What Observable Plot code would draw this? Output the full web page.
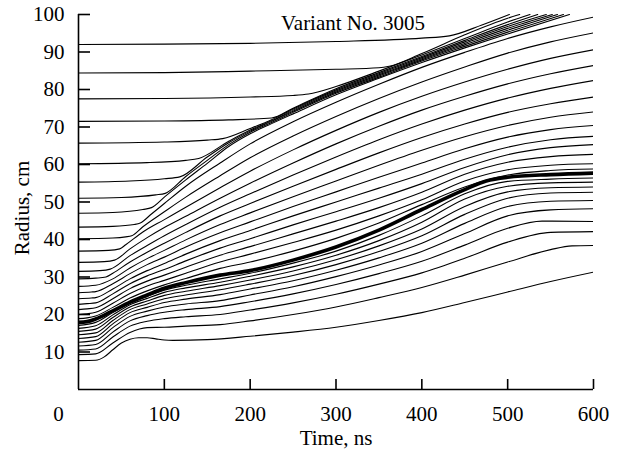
<!DOCTYPE html>
<html><head><meta charset="utf-8">
<script src="https://cdn.jsdelivr.net/npm/d3@7"></script>
<script src="https://cdn.jsdelivr.net/npm/@observablehq/plot@0.6"></script>
<style>body{margin:0;background:#fff} svg{display:block}</style>
</head><body><div id="chart"></div>
<script>
// Text
const title = "Variant No. 3005";
const xLabel = "Time, ns";
const yLabel = "Radius, cm";
const xTicks = [0, 100, 200, 300, 400, 500, 600];
const yTicks = [10, 20, 30, 40, 50, 60, 70, 80, 90, 100];

// Outer layers swept into the compressed shell: [time ns, radius cm]
const shellLines = [
  [[0,92],[100,92.1],[200,92.3],[300,92.8],[400,93.7],[432,94.3],[470,97.2],[502,100]],
  [[0,84.4],[100,84.5],[200,84.9],[300,85.4],[350,85.8],[362,86.2],[400,89.6],[450,94.6],[500,99.0],[514,100]],
  [[0,77.5],[100,77.6],[200,78.0],[250,78.4],[268,78.8],[300,80.8],[350,84.9],[400,89.2],[450,93.6],[500,98.0],[526,100]],
  [[0,71.5],[100,71.6],[175,71.9],[225,72.4],[250,75.0],[300,80.2],[350,84.5],[400,88.8],[450,93.1],[500,97.3],[535,100]],
  [[0,65.7],[100,66.0],[150,66.5],[168,66.9],[200,69.6],[225,71.95],[250,74.8],[300,79.9],[350,84.2],[400,88.5],[450,92.7],[500,96.8],[545,100]],
  [[0,60.2],[80,60.5],[125,61.1],[140,61.6],[175,66.2],[200,69.2],[225,71.7],[250,74.5],[300,79.6],[350,83.9],[400,88.2],[450,92.3],[500,96.3],[552,100]],
  [[0,55.3],[60,55.6],[100,56.2],[118,56.7],[150,62.0],[175,65.8],[200,68.9],[225,71.5],[250,74.2],[300,79.3],[350,83.6],[400,87.9],[450,91.9],[500,95.8],[558,100]],
  [[0,51],[50,51.2],[90,51.9],[101,52.3],[125,56.8],[150,61.1],[175,65.3],[200,68.6],[225,71.2],[250,73.9],[300,79.0],[350,83.3],[400,87.6],[450,91.5],[500,95.3],[565,100]],
  [[0,47],[40,47.2],[75,48.0],[85,48.5],[101,51.5],[125,55.9],[150,60.3],[175,64.8],[200,68.2],[225,70.9],[250,73.5],[300,78.6],[350,83.0],[400,87.2],[450,91.1],[500,94.8],[572,100]]
];

// Layers between the shell and the interface (fan)
const fanLines = [
  [[0,18.9],[10,19.1],[20,19.6],[40,21.9],[60,24.4],[80,26.3],[100,27.9],[125,29.6],[165,32.3],[200,34.0],[250,36.9],[300,40.3],[350,44.4],[400,49.3],[450,54.0],[500,57.2],[550,58.4],[600,58.8]],
  [[0,20.0],[10,20.2],[20,20.6],[40,23.0],[60,25.6],[80,27.6],[100,29.1],[125,31.0],[165,34.0],[200,36.1],[250,39.2],[300,42.5],[350,46.3],[400,50.6],[450,55.6],[500,58.6],[550,59.8],[600,60.2]],
  [[0,21.3],[10,21.5],[20,21.8],[40,24.2],[60,26.9],[80,28.9],[100,30.5],[125,32.6],[165,35.8],[200,38.1],[250,41.5],[300,44.9],[350,48.5],[400,52.6],[450,57.4],[500,60.6],[550,62.1],[600,62.7]],
  [[0,22.7],[10,22.9],[20,23.1],[40,25.5],[60,28.2],[80,30.3],[100,32.0],[125,34.3],[165,37.7],[200,40.2],[250,43.9],[300,47.4],[350,51.0],[400,54.9],[450,59.2],[500,62.6],[550,64.5],[600,65.3]],
  [[0,24.2],[15,24.4],[20,24.5],[40,26.8],[60,29.5],[80,31.7],[100,33.6],[125,36.1],[165,39.7],[200,42.4],[250,46.3],[300,50.0],[350,53.7],[400,57.4],[450,61.4],[500,64.6],[550,66.6],[600,67.5]],
  [[0,25.8],[15,26.0],[20,26.1],[40,28.2],[60,30.9],[80,33.3],[100,35.3],[125,38.0],[165,41.8],[200,44.7],[250,48.8],[300,52.7],[350,56.6],[400,60.4],[450,64.2],[500,67.3],[550,69.3],[600,70.4]],
  [[0,27.5],[20,27.8],[40,29.5],[60,32.4],[80,34.9],[100,37.1],[125,39.9],[165,44.0],[200,47.1],[250,51.4],[300,55.6],[350,59.8],[400,63.8],[450,67.4],[500,70.4],[550,72.6],[600,74.0]],
  [[0,29.5],[20,29.7],[32,30.0],[40,31.0],[60,34.0],[80,36.6],[100,39.0],[125,41.9],[165,46.3],[200,49.6],[250,54.2],[300,58.7],[350,63.1],[400,67.2],[450,70.8],[500,73.9],[550,76.2],[600,78.0]],
  [[0,31.5],[25,31.7],[37,32.1],[60,35.7],[80,38.4],[100,41.0],[125,44.0],[165,48.6],[200,52.2],[250,57.2],[300,62.0],[350,66.6],[400,70.8],[450,74.5],[500,77.7],[550,80.3],[600,82.4]],
  [[0,33.9],[30,34.1],[42,34.5],[60,37.5],[80,40.5],[100,43.2],[125,46.2],[165,51.0],[200,55.0],[250,60.4],[300,65.5],[350,70.2],[400,74.5],[450,78.2],[500,81.5],[550,84.2],[600,86.4]],
  [[0,36.9],[35,37.1],[48,37.5],[55,38.6],[75,42.0],[100,45.3],[125,48.6],[165,53.8],[200,58.2],[250,63.9],[300,69.1],[350,73.9],[400,78.2],[450,82.0],[500,85.4],[550,88.3],[600,90.6]],
  [[0,40.2],[40,40.4],[55,40.7],[62,41.0],[75,43.4],[100,47.4],[125,51.3],[165,57.0],[200,61.8],[250,67.6],[300,72.8],[350,77.6],[400,82.0],[450,86.0],[500,89.7],[550,92.7],[600,95.1]],
  [[0,43.3],[40,43.5],[65,44.0],[72,44.4],[85,46.8],[100,49.6],[125,54.2],[165,60.4],[200,65.5],[250,71.4],[300,76.6],[350,81.4],[400,85.9],[450,89.9],[500,93.6],[550,96.7],[600,99.3]]
];

// Interface (bold line)
const interfaceLine = [[0,17.9],[10,18.1],[20,18.8],[40,21.0],[60,23.3],[80,25.2],[100,27.0],[125,28.5],[165,30.5],[200,31.7],[250,34.5],[300,38.0],[350,42.5],[400,48.0],[450,53.3],[475,55.6],[500,56.6],[550,57.3],[600,57.7]];

// Inner layers
const innerLines = [
  [[0,7.7],[20,7.8],[30,8.7],[40,10.6],[50,12.4],[60,13.4],[70,13.8],[80,13.8],[90,13.5],[100,13.2],[110,13.1],[150,13.3],[200,14.2],[250,15.3],[300,16.6],[350,18.4],[400,20.5],[450,23.2],[500,26.0],[550,28.8],[600,31.3]],
  [[0,9.3],[20,9.5],[40,12.4],[60,15.2],[80,16.5],[100,16.6],[125,16.9],[165,17.3],[200,18.3],[250,20.0],[300,22.0],[350,24.5],[400,27.2],[450,30.5],[500,34.0],[550,37.3],[575,38.3],[600,38.4]],
  [[0,10.5],[20,10.8],[40,14.0],[60,16.9],[80,18.2],[100,18.9],[125,19.4],[165,20.0],[200,21.2],[250,23.1],[300,25.4],[350,28.1],[400,31.1],[450,35.0],[500,39.3],[550,41.9],[600,42.1]],
  [[0,11.6],[20,12.0],[40,15.3],[60,18.3],[80,19.7],[100,20.6],[125,21.3],[165,22.1],[200,23.4],[250,25.5],[300,28.0],[350,30.9],[400,34.2],[450,38.5],[500,43.0],[540,44.9],[600,44.8]],
  [[0,12.6],[20,13.1],[40,16.5],[60,19.5],[80,20.9],[100,22.0],[125,22.8],[165,23.7],[200,25.2],[250,27.4],[300,30.1],[350,33.2],[400,36.8],[450,41.6],[500,46.3],[550,47.9],[600,48.2]],
  [[0,13.6],[20,14.1],[40,17.5],[60,20.5],[80,21.9],[100,23.2],[125,24.1],[165,25.3],[200,26.8],[250,29.0],[300,31.8],[350,35.1],[400,39.0],[450,44.3],[500,48.8],[550,50.2],[600,50.4]],
  [[0,14.6],[20,15.1],[40,18.4],[60,21.3],[80,22.8],[100,24.2],[125,25.2],[165,26.6],[200,28.1],[250,30.4],[300,33.3],[350,36.8],[400,41.0],[450,46.7],[500,51.0],[550,52.4],[600,52.6]],
  [[0,15.5],[20,16.1],[40,19.2],[60,22.0],[80,23.6],[100,25.1],[125,26.2],[165,27.7],[200,29.2],[250,31.6],[300,34.6],[350,38.3],[400,42.8],[450,48.8],[500,52.7],[550,53.8],[600,54.0]],
  [[0,16.3],[20,17.0],[40,19.9],[60,22.6],[80,24.3],[100,25.9],[125,27.1],[165,28.6],[200,30.2],[250,32.7],[300,35.8],[350,39.7],[400,44.6],[450,50.8],[500,54.2],[550,55.1],[600,55.3]],
  [[0,17.1],[20,17.9],[40,20.5],[60,23.0],[80,24.8],[100,26.5],[125,27.8],[165,29.5],[200,31.0],[250,33.7],[300,36.9],[350,41.1],[400,46.3],[450,52.2],[500,55.5],[550,56.1],[600,56.4]]
];

const toRows = (lines, prefix) => lines.flatMap((pts, i) => pts.map(([t, r]) => ({id: prefix + i, t, r})));
const thinRows = [...toRows(shellLines, "s"), ...toRows(fanLines, "f"), ...toRows(innerLines, "i")];
const boldRows = toRows([interfaceLine], "b");

const chart = Plot.plot({
  width: 618, height: 454,
  marginLeft: 78, marginRight: 25, marginTop: 14, marginBottom: 65,
  x: {domain: [0, 600]},
  y: {domain: [0, 100]},
  clip: true,
  style: {fontFamily: "'Liberation Serif', 'Times New Roman', serif", fontSize: "21px", background: "white", color: "black"},
  marks: [
    Plot.line(thinRows, {x: "t", y: "r", z: "id", curve: "monotone-x", stroke: "black", strokeWidth: 1.1}),
    Plot.line(boldRows, {x: "t", y: "r", z: "id", curve: "monotone-x", stroke: "black", strokeWidth: 3.6}),
    Plot.ruleX([0], {stroke: "black", strokeWidth: 1.6, clip: false}),
    Plot.ruleY([0], {stroke: "black", strokeWidth: 1.6, clip: false}),
    Plot.tickY(yTicks, {y: d => d, insetRight: 503, stroke: "black", strokeWidth: 1.6, clip: false}),
    Plot.tickX(xTicks.filter(d => d > 0), {x: d => d, insetTop: 365, stroke: "black", strokeWidth: 1.6, clip: false}),
    Plot.axisY(yTicks, {tickSize: 0, tickPadding: 14, label: null}),
    Plot.axisX(xTicks.filter(d => d > 0), {tickSize: 0, tickPadding: 17, label: null}),
    Plot.axisX([0], {tickSize: 0, tickPadding: 17, dx: -20, label: null}),
    Plot.text([xLabel], {frameAnchor: "bottom", lineAnchor: "middle", textAnchor: "middle", dy: 49, clip: false}),
    Plot.text([yLabel], {frameAnchor: "left", lineAnchor: "middle", textAnchor: "middle", rotate: -90, dx: -56, dy: 6, clip: false}),
    Plot.text([title], {frameAnchor: "top", lineAnchor: "middle", textAnchor: "middle", dx: 17, dy: 9, clip: false})
  ]
});
document.getElementById("chart").appendChild(chart);
</script>
</body></html>
